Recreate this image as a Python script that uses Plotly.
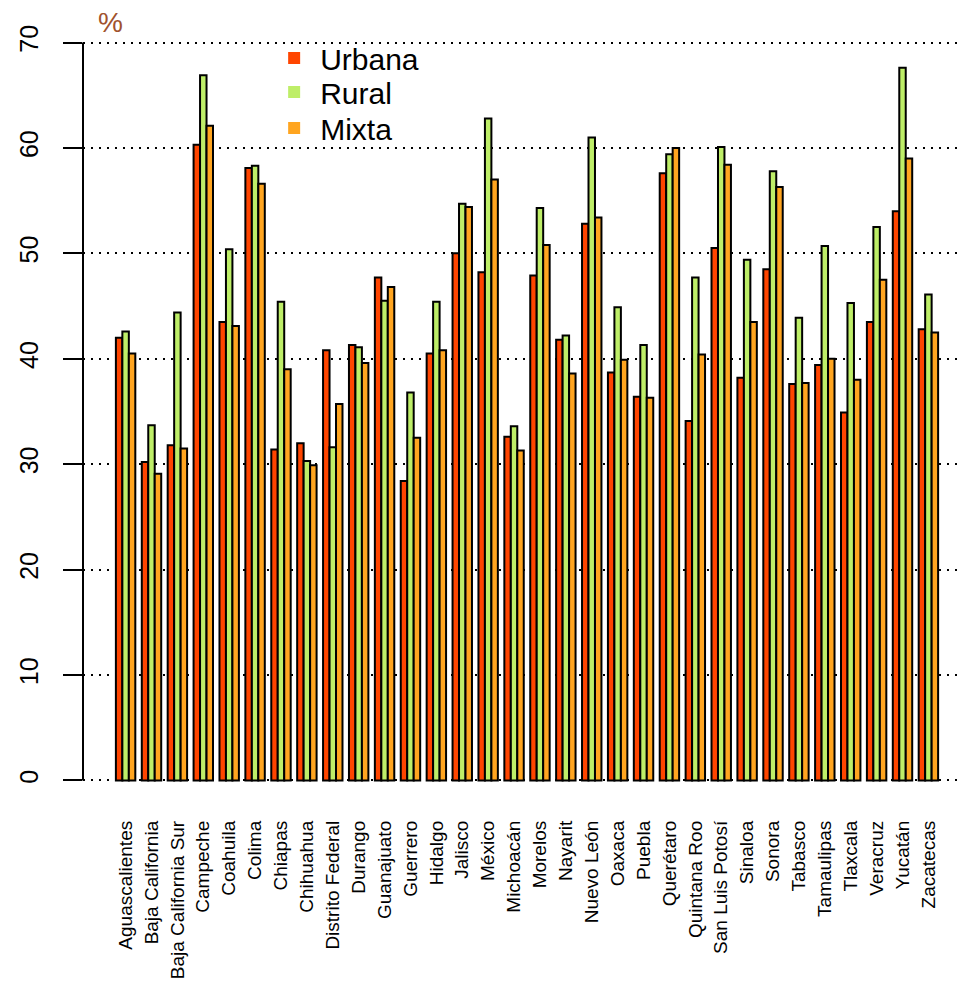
import plotly.graph_objects as go

estados = ["Aguascalientes", "Baja California", "Baja California Sur", "Campeche", "Coahuila",
           "Colima", "Chiapas", "Chihuahua", "Distrito Federal", "Durango", "Guanajuato",
           "Guerrero", "Hidalgo", "Jalisco", "México", "Michoacán", "Morelos", "Nayarit",
           "Nuevo León", "Oaxaca", "Puebla", "Querétaro", "Quintana Roo", "San Luis Potosí",
           "Sinaloa", "Sonora", "Tabasco", "Tamaulipas", "Tlaxcala", "Veracruz", "Yucatán",
           "Zacatecas"]

urbana = [42.0, 30.2, 31.8, 60.3, 43.5, 58.1, 31.4, 32.0, 40.8, 41.3, 47.7, 28.4, 40.5, 50.0,
          48.2, 32.6, 47.9, 41.8, 52.8, 38.7, 36.4, 57.6, 34.1, 50.5, 38.2, 48.5, 37.6, 39.4,
          34.9, 43.5, 54.0, 42.8]
rural = [42.6, 33.7, 44.4, 66.9, 50.4, 58.3, 45.4, 30.3, 31.6, 41.1, 45.5, 36.8, 45.4, 54.7,
         62.8, 33.6, 54.3, 42.2, 61.0, 44.9, 41.3, 59.4, 47.7, 60.1, 49.4, 57.8, 43.9, 50.7,
         45.3, 52.5, 67.6, 46.1]
mixta = [40.5, 29.1, 31.5, 62.1, 43.1, 56.6, 39.0, 29.9, 35.7, 39.6, 46.8, 32.5, 40.8, 54.4,
         57.0, 31.3, 50.8, 38.6, 53.4, 39.9, 36.3, 60.0, 40.4, 58.4, 43.5, 56.3, 37.7, 40.0,
         38.0, 47.5, 59.0, 42.5]

series_names = ["Urbana", "Rural", "Mixta"]
series_values = [urbana, rural, mixta]
colors = ["#FF4500", "#BEEE68", "#FFA520"]

FONT = "Liberation Sans, Arial, sans-serif"

fig = go.Figure()
for name, vals, col in zip(series_names, series_values, colors):
    fig.add_trace(go.Bar(x=estados, y=vals, name=name, showlegend=False,
                         marker=dict(color=col, line=dict(color="black", width=2))))
# legend entries (plain squares, no border), each in its own legend box
legend_ids = ["legend", "legend2", "legend3"]
for name, col, lid in zip(series_names, colors, legend_ids):
    fig.add_trace(go.Scatter(x=[None], y=[None], mode="markers", name=name, legend=lid,
                             marker=dict(symbol="square", size=14, color=col)))

legend_y = [0.9435, 0.9009, 0.8557]
legend_common = dict(x=0.2085, xanchor="left", yanchor="middle",
                     font=dict(size=30, family=FONT), bgcolor="rgba(0,0,0,0)",
                     itemsizing="constant", itemwidth=42)

fig.update_layout(
    width=963, height=975,
    margin=dict(l=75, r=0, t=5, b=173),
    paper_bgcolor="white", plot_bgcolor="white",
    barmode="group", bargap=0.25, bargroupgap=0,
    font=dict(family=FONT, color="black"),
    legend=dict(y=legend_y[0], **legend_common),
    legend2=dict(y=legend_y[1], **legend_common),
    legend3=dict(y=legend_y[2], **legend_common),
    xaxis=dict(type="category", range=[-1.645, 32.645], showgrid=False,
               showline=False, ticks="", tickangle=-90,
               tickfont=dict(size=19, family=FONT), ticklabelstandoff=6),
    yaxis=dict(range=[-2.8, 72.8], tickvals=[0, 10, 20, 30, 40, 50, 60, 70],
               showgrid=True, gridcolor="black", gridwidth=1.5, griddash="2px,6px",
               zeroline=False, showline=False, ticks="outside", ticklen=19,
               tickwidth=2, tickcolor="black", tickangle=-90,
               tickfont=dict(size=25, family=FONT), ticklabelstandoff=15),
    annotations=[dict(text="%", xref="paper", yref="paper", x=0.0315, y=0.989,
                      xanchor="center", yanchor="middle", showarrow=False, height=26,
                      font=dict(size=28, color="#A0522D", family=FONT))],
    shapes=[dict(type="line", xref="paper", yref="y", x0=0, x1=0, y0=0, y1=70,
                 line=dict(color="black", width=2))],
)

fig.write_html("out.html")
